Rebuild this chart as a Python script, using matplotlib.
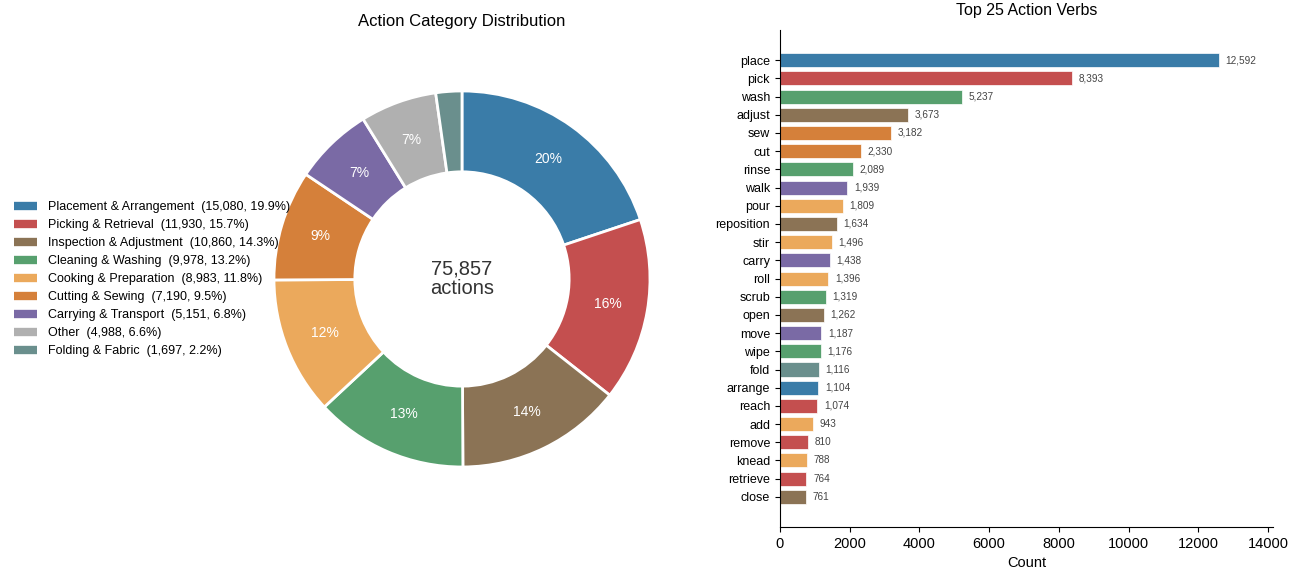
import matplotlib
matplotlib.use("Agg")
import matplotlib.pyplot as plt
from matplotlib.lines import Line2D

plt.rcParams['font.family'] = ['Liberation Sans', 'DejaVu Sans']

# category totals
categories = ["Placement & Arrangement", "Picking & Retrieval", "Inspection & Adjustment",
              "Cleaning & Washing", "Cooking & Preparation", "Cutting & Sewing",
              "Carrying & Transport", "Other", "Folding & Fabric"]
cat_counts = [15080, 11930, 10860, 9978, 8983, 7190, 5151, 4988, 1697]
cat_colors = ["#3a7ca8", "#c44f4f", "#8b7355", "#57a06e", "#eba95c",
              "#d5803a", "#7a6aa5", "#b0b0b0", "#6a8f8d"]

# top verbs and the category each belongs to
verbs = ["place", "pick", "wash", "adjust", "sew", "cut", "rinse", "walk", "pour",
         "reposition", "stir", "carry", "roll", "scrub", "open", "move", "wipe",
         "fold", "arrange", "reach", "add", "remove", "knead", "retrieve", "close"]
verb_counts = [12592, 8393, 5237, 3673, 3182, 2330, 2089, 1939, 1809, 1634, 1496,
               1438, 1396, 1319, 1262, 1187, 1176, 1116, 1104, 1074, 943, 810,
               788, 764, 761]
verb_cat = [0, 1, 3, 2, 5, 5, 3, 6, 4, 2, 4, 6, 4, 3, 2, 6, 3, 8, 0, 1, 4, 1, 4, 1, 2]

total = sum(cat_counts)

fig = plt.figure(figsize=(12.91, 5.69), dpi=100)

# donut
ax1 = fig.add_axes([0.1758, 0.0967, 0.3641, 0.826])
wedges, texts, autotexts = ax1.pie(
    cat_counts, colors=cat_colors, startangle=90, counterclock=False,
    autopct=lambda p: "%.0f%%" % p if p >= 3 else "", pctdistance=0.785,
    wedgeprops=dict(width=0.43, edgecolor="white", linewidth=2),
    textprops=dict(color="white", fontsize=10))
ax1.set_xlim(-1.25, 1.25)
ax1.set_ylim(-1.25, 1.25)
ax1.set_aspect("equal")
ax1.text(0, 0, "{:,}\nactions".format(total), ha="center", va="center",
         fontsize=14.5, color="#333333", linespacing=1.05)
ax1.set_title("Action Category Distribution", fontsize=12, pad=13)

handles = [Line2D([0], [0], color=c, lw=6, solid_capstyle="butt") for c in cat_colors]
labels = ["{}  ({:,}, {:.1f}%)".format(n, v, 100.0 * v / total)
          for n, v in zip(categories, cat_counts)]
fig.legend(handles, labels, loc="center left", bbox_to_anchor=(0.0025, 0.509),
           frameon=False, fontsize=9, labelspacing=0.48, handlelength=1.84,
           handletextpad=0.88)

# bars
ax2 = fig.add_axes([0.604, 0.074, 0.382, 0.873])
ypos = list(range(len(verbs)))
ax2.barh(ypos, verb_counts, height=0.77, color=[cat_colors[i] for i in verb_cat],
         edgecolor="white", linewidth=0.5)
for y, v in zip(ypos, verb_counts):
    ax2.text(v + 190, y, "{:,}".format(v), va="center", ha="left",
             fontsize=7.2, color="#444444")
ax2.set_yticks(ypos)
ax2.set_yticklabels(verbs, fontsize=9)
ax2.set_ylim(len(verbs) - 1 + 1.65, -1.65)
ax2.set_xlim(0, max(verb_counts) * 1.123)
ax2.set_xticks([0, 2000, 4000, 6000, 8000, 10000, 12000, 14000])
ax2.tick_params(axis="x", labelsize=10.5)
ax2.set_xlabel("Count", fontsize=10.5, labelpad=4)
ax2.set_title("Top 25 Action Verbs", fontsize=11.5, pad=11)
ax2.spines["top"].set_visible(False)
ax2.spines["right"].set_visible(False)

fig.savefig("out.png", dpi=100)
